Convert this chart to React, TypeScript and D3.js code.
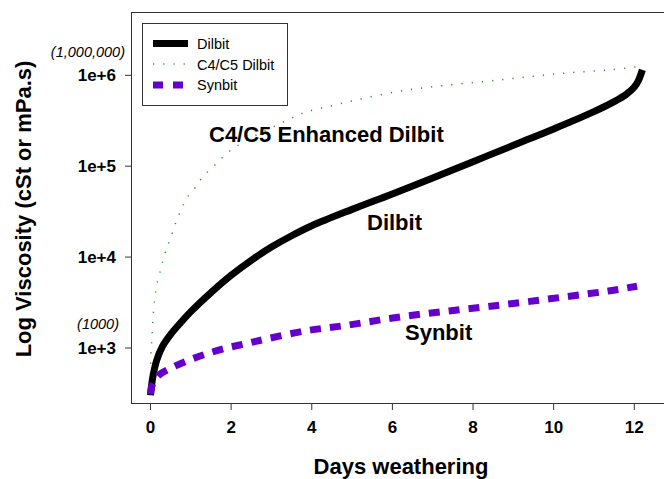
import React from "react";
import * as d3 from "d3";

// Days weathering (x) and viscosity in cSt (y)
const dilbitDays = [0, 0.05, 0.15, 0.3, 0.5, 0.75, 1, 1.5, 2, 2.5, 3, 3.5, 4, 5, 6, 7, 8, 9, 10, 11, 11.5, 11.8, 12, 12.1, 12.2];
const dilbitVisc = [302, 457, 724, 1047, 1413, 1905, 2512, 4074, 6310, 9226, 12882, 17179, 22131, 33497, 49545, 74131, 112202, 169824, 257040, 398107, 512861, 616595, 741310, 870964, 1148154];

const c4c5Days = [0, 0.01, 0.04, 0.07, 0.13, 0.17, 0.24, 0.3, 0.38, 0.47, 0.57, 0.65, 0.77, 0.9, 1.1, 1.27, 1.52, 1.77, 2.0, 2.25, 2.7, 3.13, 3.58, 3.87, 4.37, 5.11, 6.11, 6.93, 8.67, 10.16, 11.4, 12.09];
const c4c5Visc = [400, 850, 1380, 2400, 4170, 5370, 6920, 8910, 11750, 15100, 19950, 25700, 33900, 44700, 57500, 74100, 95500, 123000, 151000, 178000, 229000, 282000, 351000, 398000, 447000, 537000, 661000, 741000, 891000, 1047000, 1148000, 1245000];

const synbitDays = [0, 0.05, 0.2, 0.5, 0.86, 1.35, 1.89, 2.39, 2.88, 3.87, 4.87, 5.86, 6.85, 7.84, 9, 10.4, 11.4, 12.07];
const synbitVisc = [310, 400, 500, 600, 708, 851, 1000, 1122, 1259, 1549, 1778, 2089, 2399, 2692, 3090, 3715, 4266, 4786];

const xTicks = [0, 2, 4, 6, 8, 10, 12];
const yTicks = [1e3, 1e4, 1e5, 1e6];
const yTickLabels = ["1e+3", "1e+4", "1e+5", "1e+6"];

const legendItems = ["Dilbit", "C4/C5 Dilbit", "Synbit"];

const FONT = "'Liberation Sans', Arial, Helvetica, sans-serif";

export default function App() {
  const W = 664;
  const H = 479;
  const left = 131;
  const top = 12;
  const bottom = 403;

  const x = d3.scaleLinear().domain([0, 12]).range([150.5, 634.3]);
  const y = d3.scaleLog().domain([1e3, 1e6]).range([348, 75.3]);

  const line = d3
    .line<[number, number]>()
    .x((d) => x(d[0]))
    .y((d) => y(d[1]))
    .curve(d3.curveCatmullRom.alpha(0.5));

  const zip = (a: number[], b: number[]) => a.map((v, i) => [v, b[i]] as [number, number]);

  const axisColor = "#333";

  return (
    <svg
      width={W}
      height={H}
      style={{ position: "absolute", left: 0, top: 0, background: "#fff" }}
      fontFamily={FONT}
    >
      <rect x={0} y={0} width={W} height={H} fill="#fff" />
      {/* frame */}
      <line x1={left} x2={W} y1={top + 0.5} y2={top + 0.5} stroke={axisColor} strokeWidth={1} />
      <line x1={left} x2={W} y1={bottom + 0.5} y2={bottom + 0.5} stroke={axisColor} strokeWidth={1} />
      <line x1={left + 0.5} x2={left + 0.5} y1={top} y2={bottom + 1} stroke={axisColor} strokeWidth={1} />

      {/* x ticks */}
      {xTicks.map((t) => (
        <g key={t}>
          <line x1={x(t)} x2={x(t)} y1={bottom + 1} y2={bottom + 7} stroke={axisColor} strokeWidth={1} />
          <text x={x(t)} y={433} textAnchor="middle" fontSize={17} fontWeight="bold" fill="#000">
            {t}
          </text>
        </g>
      ))}

      {/* y ticks */}
      {yTicks.map((t, i) => (
        <g key={t}>
          <line x1={left - 6} x2={left} y1={y(t)} y2={y(t)} stroke={axisColor} strokeWidth={1} />
          <text x={116} y={y(t)} dy="0.36em" textAnchor="end" fontSize={17} fontWeight="bold" fill="#000">
            {yTickLabels[i]}
          </text>
        </g>
      ))}

      <text x={125} y={57} textAnchor="end" fontSize={14.5} fontStyle="italic" fill="#000">
        (1,000,000)
      </text>
      <text x={119} y={329} textAnchor="end" fontSize={14.5} fontStyle="italic" fill="#000">
        (1000)
      </text>

      {/* axis titles */}
      <text x={401} y={474} textAnchor="middle" fontSize={22} fontWeight="bold" fill="#000">
        Days weathering
      </text>
      <text
        transform={`translate(31,209) rotate(-90)`}
        textAnchor="middle"
        fontSize={22}
        fontWeight="bold"
        fill="#000"
      >
        Log Viscosity (cSt or mPa.s)
      </text>

      {/* series */}
      <path
        d={line(zip(c4c5Days, c4c5Visc)) || ""}
        fill="none"
        stroke="#2f8f2f"
        strokeWidth={1.5}
        strokeDasharray="1.2 9"
      />
      <path
        d={line(zip(dilbitDays, dilbitVisc)) || ""}
        fill="none"
        stroke="#000"
        strokeWidth={7}
      />
      <path
        d={line(zip(synbitDays, synbitVisc)) || ""}
        fill="none"
        stroke="#6600cc"
        strokeWidth={7}
        strokeDasharray="11 9"
      />

      {/* curve labels */}
      <text x={209} y={142} fontSize={22} fontWeight="bold" fill="#000">
        C4/C5 Enhanced Dilbit
      </text>
      <text x={367} y={230} fontSize={22} fontWeight="bold" fill="#000">
        Dilbit
      </text>
      <text x={405} y={340} fontSize={22} fontWeight="bold" fill="#000">
        Synbit
      </text>

      {/* legend */}
      <rect x={142.5} y={23.5} width={145} height={82} fill="#fff" stroke={axisColor} strokeWidth={1} />
      <line x1={153} x2={188} y1={43.5} y2={43.5} stroke="#000" strokeWidth={7} />
      <line x1={153} x2={190} y1={64} y2={64} stroke="#2f8f2f" strokeWidth={1.5} strokeDasharray="1.2 9" />
      <line x1={153} x2={188} y1={85} y2={85} stroke="#6600cc" strokeWidth={7} strokeDasharray="10 10" />
      {legendItems.map((label, i) => (
        <text key={label} x={197} y={49 + i * 20.7} fontSize={14.5} fill="#000">
          {label}
        </text>
      ))}
    </svg>
  );
}
